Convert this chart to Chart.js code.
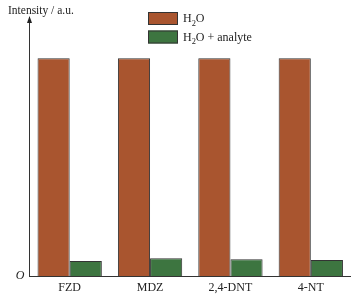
<!DOCTYPE html>
<html>
<head>
<meta charset="utf-8">
<script src="https://cdn.jsdelivr.net/npm/chart.js@4"></script>
<style>
html,body{margin:0;padding:0;background:#fff;}
#wrap{width:351px;height:299px;position:relative;}
</style>
</head>
<body>
<div id="wrap"><canvas id="c"></canvas></div>
<script>
const categories = ['FZD', 'MDZ', '2,4-DNT', '4-NT'];
const waterValues = [100, 100, 100, 100];
const analyteValues = [6.9, 8.1, 7.7, 7.3];
const seriesNames = ['H2O', 'H2O + analyte'];
const yAxisTitle = 'Intensity / a.u.';
const zeroLabel = 'O';

const ORANGE = '#a9552f';
const GREEN = '#3d7540';
const EDGE = '#333333';
const FONT = "'Liberation Serif', 'Times New Roman', serif";

function drawChem(ctx, x, y, text, size) {
  // draws text where a '2' directly after 'H' is a subscript
  let cx = x;
  for (let i = 0; i < text.length; i++) {
    const ch = text[i];
    if (ch === '2' && i > 0 && text[i - 1] === 'H') {
      ctx.font = (size * 0.7) + 'px ' + FONT;
      ctx.fillText(ch, cx, y + size * 0.3);
      cx += ctx.measureText(ch).width;
    } else {
      ctx.font = size + 'px ' + FONT;
      ctx.fillText(ch, cx, y);
      cx += ctx.measureText(ch).width;
    }
  }
}

const decor = {
  id: 'decor',
  afterDraw(chart) {
    const ctx = chart.ctx;
    const area = chart.chartArea;
    const x0 = chart.scales.y.left + chart.scales.y.width;
    ctx.save();
    // arrow head on y axis
    ctx.fillStyle = '#222';
    ctx.beginPath();
    ctx.moveTo(x0, area.top - 1);
    ctx.lineTo(x0 - 2.5, area.top + 6);
    ctx.lineTo(x0 + 2.5, area.top + 6);
    ctx.closePath();
    ctx.fill();
    // axis title
    ctx.fillStyle = '#222';
    ctx.textBaseline = 'alphabetic';
    ctx.textAlign = 'left';
    ctx.font = '11.5px ' + FONT;
    ctx.fillText(yAxisTitle, 8, 14);
    // legend
    const colors = [ORANGE, GREEN];
    const boxX = 148, boxW = 30, boxH = 13;
    const rows = [12, 30.5];
    for (let i = 0; i < seriesNames.length; i++) {
      ctx.fillStyle = colors[i];
      ctx.fillRect(boxX, rows[i], boxW, boxH);
      ctx.strokeStyle = EDGE;
      ctx.lineWidth = 1;
      ctx.strokeRect(boxX + 0.5, rows[i] + 0.5, boxW - 1, boxH - 1);
      ctx.fillStyle = '#222';
      drawChem(ctx, 183, rows[i] + 10, seriesNames[i], 12);
    }
    ctx.restore();
  }
};

new Chart(document.getElementById('c'), {
  type: 'bar',
  data: {
    labels: categories,
    datasets: [
      { label: seriesNames[0], data: waterValues, backgroundColor: ORANGE, borderColor: EDGE, borderWidth: 1 },
      { label: seriesNames[1], data: analyteValues, backgroundColor: GREEN, borderColor: EDGE, borderWidth: 1 }
    ]
  },
  options: {
    responsive: true,
    maintainAspectRatio: false,
    animation: false,
    layout: { padding: { top: 17, right: 0, left: 0, bottom: 0 } },
    plugins: { legend: { display: false }, tooltip: { enabled: false } },
    datasets: { bar: { categoryPercentage: 0.8, barPercentage: 1.0 } },
    scales: {
      x: {
        grid: { display: false, drawTicks: false },
        border: { display: true, color: '#333', width: 1 },
        ticks: { color: '#222', font: { family: FONT, size: 12 }, padding: 5, maxRotation: 0 },
        afterFit(s) { s.height = 23; }
      },
      y: {
        min: 0, max: 119,
        grid: { display: false, drawTicks: false },
        border: { display: true, color: '#333', width: 1 },
        afterBuildTicks(s) { s.ticks = [{ value: 0 }]; },
        ticks: {
          color: '#222', padding: 5,
          font: { family: FONT, size: 12, style: 'italic' },
          callback: (v) => (v === 0 ? zeroLabel : '')
        },
        afterFit(s) { s.width = 29.5; }
      }
    }
  },
  plugins: [decor]
});
</script>
</body>
</html>
